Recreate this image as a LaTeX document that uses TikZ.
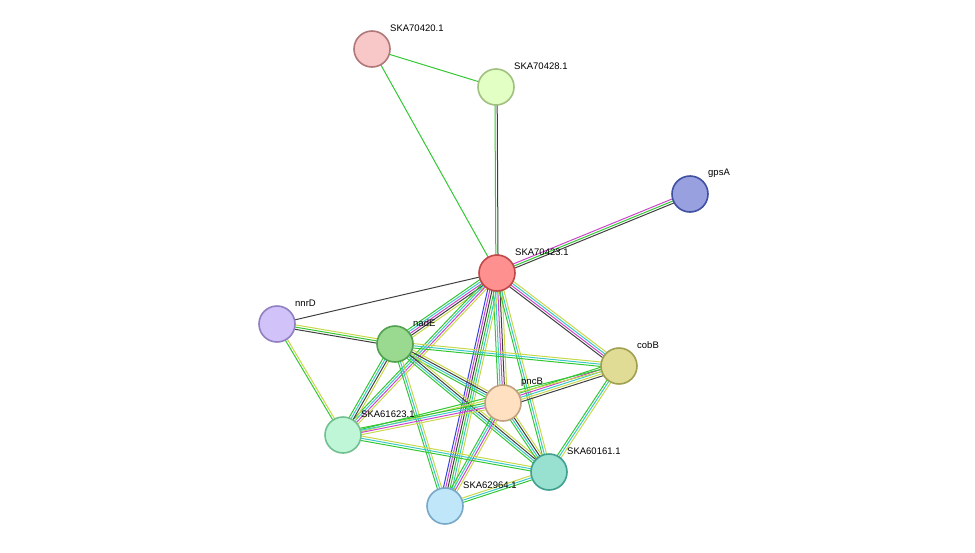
\documentclass[tikz,border=0pt]{standalone}
\usepackage{fontspec}
\setmainfont{Liberation Sans}
\usetikzlibrary{calc,backgrounds}

\definecolor{eGreen}{HTML}{33C833}
\definecolor{eCyan}{HTML}{3CC8C8}
\definecolor{eMag}{HTML}{CC44CC}
\definecolor{eYel}{HTML}{C8D84A}
\definecolor{eDark}{HTML}{404040}
\definecolor{eBlue}{HTML}{3344DD}

\tikzset{
	prot/.style={circle, draw, line width=1.6pt, minimum size=36pt, inner sep=0pt},
	lbl/.style={anchor=west, inner sep=0pt, font=\fontsize{9.5}{11}\selectfont},
	link/.style={line width=1pt}
}

\newcommand\strandlink[3]{%
	\foreach \c [count=\i] in {#3} {\xdef\nstr{\i}}
	\foreach \c [count=\i] in {#3} {
		\pgfmathsetmacro\off{(\i-(\nstr+1)/2)*2.2}
		\draw[link,\c] ($(#1.center)!\off pt!90:(#2.center)$) -- ($(#2.center)!\off pt!-90:(#1.center)$);
	}
}

\begin{document}
\begin{tikzpicture}[x=1pt,y=-1pt]
	
	\useasboundingbox (0,0) rectangle (975,552);
	
	% ----------------
	% Proteins
	\node[prot, draw={rgb,255:red,176;green,120;blue,120}, fill={rgb,255:red,248;green,200;blue,200}] (P70420) at (372,49) {};
	\node[prot, draw={rgb,255:red,160;green,192;blue,128}, fill={rgb,255:red,226;green,255;blue,196}] (P70428) at (496,87) {};
	\node[prot, draw={rgb,255:red,64;green,80;blue,160}, fill={rgb,255:red,152;green,160;blue,224}] (gpsA) at (690,194) {};
	\node[prot, draw={rgb,255:red,192;green,72;blue,72}, fill={rgb,255:red,255;green,144;blue,144}] (P70423) at (497,273) {};
	\node[prot, draw={rgb,255:red,144;green,128;blue,192}, fill={rgb,255:red,210;green,194;blue,250}] (nnrD) at (277,324) {};
	\node[prot, draw={rgb,255:red,80;green,160;blue,80}, fill={rgb,255:red,154;green,218;blue,144}] (nadE) at (395,344) {};
	\node[prot, draw={rgb,255:red,160;green,160;blue,80}, fill={rgb,255:red,224;green,220;blue,150}] (cobB) at (619,366) {};
	\node[prot, draw={rgb,255:red,192;green,160;blue,128}, fill={rgb,255:red,255;green,224;blue,192}] (pncB) at (503,403) {};
	\node[prot, draw={rgb,255:red,112;green,192;blue,144}, fill={rgb,255:red,192;green,246;blue,216}] (P61623) at (343,435) {};
	\node[prot, draw={rgb,255:red,64;green,160;blue,144}, fill={rgb,255:red,152;green,224;blue,208}] (P60161) at (549,472) {};
	\node[prot, draw={rgb,255:red,120;green,168;blue,200}, fill={rgb,255:red,192;green,230;blue,250}] (P62964) at (445,506) {};
	
	% ----------------
	% Labels
	\foreach \p/\t in {P70420/SKA70420.1, P70428/SKA70428.1, gpsA/gpsA, P70423/SKA70423.1,
		nnrD/nnrD, nadE/nadE, cobB/cobB, pncB/pncB, P61623/SKA61623.1,
		P60161/SKA60161.1, P62964/SKA62964.1}
		\node[lbl] (L\p) at ($(\p.center)+(18,-21)$) {\t};
	
	% ----------------
	% Interactions
	\begin{pgfonlayer}{background}
		\strandlink{P70420}{P70428}{eGreen}
		\strandlink{P70420}{P70423}{eGreen}
		\strandlink{P70428}{P70423}{eGreen,eDark}
		\strandlink{gpsA}{P70423}{eMag,eGreen,eDark}
		\strandlink{P70423}{nnrD}{eDark}
		\strandlink{P70423}{nadE}{eGreen,eCyan,eMag,eDark,eYel}
		\strandlink{P70423}{cobB}{eDark,eMag,eCyan,eYel}
		\strandlink{P70423}{pncB}{eGreen,eCyan,eMag,eDark,eYel}
		\strandlink{P70423}{P61623}{eGreen,eCyan,eMag,eYel}
		\strandlink{P70423}{P60161}{eGreen,eCyan,eYel}
		\strandlink{P70423}{P62964}{eBlue,eMag,eDark,eGreen,eCyan,eYel}
		\strandlink{nnrD}{nadE}{eDark,eGreen,eYel}
		\strandlink{nnrD}{P61623}{eGreen,eYel}
		\strandlink{nadE}{cobB}{eGreen,eCyan,eYel}
		\strandlink{nadE}{pncB}{eGreen,eCyan,eDark,eYel}
		\strandlink{nadE}{P61623}{eGreen,eCyan,eDark,eYel}
		\strandlink{nadE}{P60161}{eGreen,eCyan,eDark,eYel}
		\strandlink{nadE}{P62964}{eGreen,eCyan,eYel}
		\strandlink{cobB}{pncB}{eGreen,eMag,eCyan,eYel,eDark}
		\strandlink{cobB}{P61623}{eGreen,eYel}
		\strandlink{cobB}{P60161}{eGreen,eCyan,eYel}
		\strandlink{pncB}{P61623}{eGreen,eCyan,eMag,eYel}
		\strandlink{pncB}{P60161}{eGreen,eCyan,eDark,eYel}
		\strandlink{pncB}{P62964}{eGreen,eCyan,eMag,eYel}
		\strandlink{P61623}{P60161}{eGreen,eCyan,eYel}
		\strandlink{P62964}{P60161}{eGreen,eCyan,eYel}
	\end{pgfonlayer}
	
\end{tikzpicture}
\end{document}
